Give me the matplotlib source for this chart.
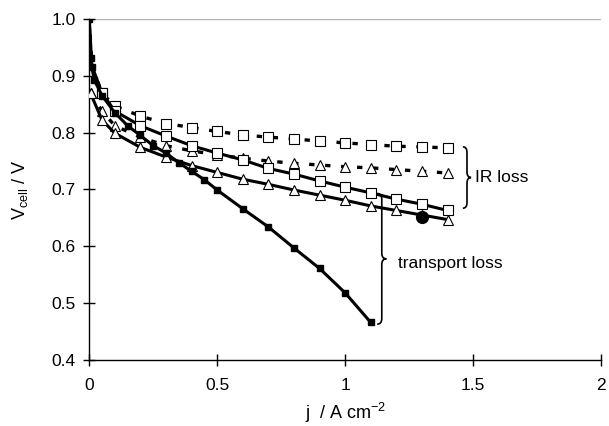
import matplotlib
matplotlib.use("Agg")
import matplotlib.pyplot as plt
from matplotlib.path import Path
from matplotlib.patches import PathPatch

plt.rcParams['font.family'] = ['Liberation Sans', 'DejaVu Sans']
plt.rcParams['mathtext.fontset'] = 'custom'
plt.rcParams['mathtext.rm'] = 'Liberation Sans'
plt.rcParams['mathtext.it'] = 'Liberation Sans:italic'

# open squares, dashed (top)
j_sq_dash = [0.0, 0.01, 0.05, 0.1, 0.2, 0.3, 0.4, 0.5, 0.6, 0.7, 0.8, 0.9, 1.0, 1.1, 1.2, 1.3, 1.4]
v_sq_dash = [1.0, 0.918, 0.869, 0.847, 0.829, 0.816, 0.809, 0.802, 0.796, 0.792, 0.789, 0.785,
             0.782, 0.779, 0.776, 0.775, 0.773]

# open squares, solid
j_sq_solid = [0.0, 0.01, 0.05, 0.1, 0.2, 0.3, 0.4, 0.5, 0.6, 0.7, 0.8, 0.9, 1.0, 1.1, 1.2, 1.3, 1.4]
v_sq_solid = [1.0, 0.918, 0.869, 0.838, 0.812, 0.794, 0.777, 0.764, 0.752, 0.737, 0.727, 0.715,
              0.704, 0.694, 0.683, 0.674, 0.663]

# open triangles, dashed
j_tr_dash = [0.005, 0.05, 0.1, 0.2, 0.3, 0.4, 0.5, 0.6, 0.7, 0.8, 0.9, 1.0, 1.1, 1.2, 1.3, 1.4]
v_tr_dash = [0.869, 0.838, 0.812, 0.792, 0.777, 0.768, 0.761, 0.755, 0.750, 0.746, 0.743, 0.740, 0.738, 0.735,
             0.732, 0.729]

# open triangles, solid
j_tr_solid = [0.005, 0.05, 0.1, 0.2, 0.3, 0.4, 0.5, 0.6, 0.7, 0.8, 0.9, 1.0, 1.1, 1.2, 1.3, 1.4]
v_tr_solid = [0.869, 0.822, 0.799, 0.774, 0.757, 0.742, 0.730, 0.718, 0.709, 0.699, 0.690, 0.681, 0.671, 0.663,
              0.655, 0.647]

# filled squares
j_fill = [0.0, 0.005, 0.01, 0.02, 0.05, 0.1, 0.15, 0.2, 0.25, 0.3, 0.35, 0.4, 0.45, 0.5, 0.6, 0.7, 0.8, 0.9,
          1.0, 1.1]
v_fill = [1.0, 0.932, 0.915, 0.892, 0.865, 0.835, 0.812, 0.795, 0.777, 0.764, 0.747, 0.732, 0.717, 0.699,
          0.666, 0.634, 0.597, 0.561, 0.518, 0.466]

# single filled circle
j_dot = [1.3]
v_dot = [0.651]

x_ticks = [0, 0.5, 1, 1.5, 2]
x_labels = ["0", "0.5", "1", "1.5", "2"]
y_ticks = [0.4, 0.5, 0.6, 0.7, 0.8, 0.9, 1.0]


def brace(ax, x0, top, bottom, w, h):
    mid = (top + bottom) / 2
    verts = [(x0 - w, top), (x0, top), (x0, top - h),
             (x0, mid + h),
             (x0, mid), (x0 + w, mid),
             (x0, mid), (x0, mid - h),
             (x0, bottom + h),
             (x0, bottom), (x0 - w, bottom)]
    codes = [Path.MOVETO, Path.CURVE3, Path.CURVE3,
             Path.LINETO,
             Path.CURVE3, Path.CURVE3,
             Path.CURVE3, Path.CURVE3,
             Path.LINETO,
             Path.CURVE3, Path.CURVE3]
    ax.add_patch(PathPatch(Path(verts, codes), fill=False, lw=1.2, color='black', zorder=4))


fig = plt.figure(figsize=(6.09, 4.26), dpi=100)
ax = fig.add_axes([0.1466, 0.155, 0.8404, 0.8005])

ax.axhline(1.0, color='#b4b4b4', lw=1.0, zorder=0)

dash = (0, (1.6, 3.2))
ax.plot(j_sq_dash, v_sq_dash, color='black', lw=2.4, linestyle=dash, marker='s', ms=6.5,
        mfc='white', mec='black', mew=0.8, markevery=slice(2, None), zorder=3)
ax.plot(j_tr_dash, v_tr_dash, color='black', lw=2.4, linestyle=dash, marker='^', ms=7.5,
        mfc='white', mec='black', mew=0.8, zorder=3)
ax.plot(j_sq_solid, v_sq_solid, color='black', lw=2.2, marker='s', ms=6.5,
        mfc='white', mec='black', mew=0.8, markevery=slice(2, None), zorder=3)
ax.plot(j_tr_solid, v_tr_solid, color='black', lw=2.2, marker='^', ms=7.5,
        mfc='white', mec='black', mew=0.8, zorder=3)
ax.plot(j_fill, v_fill, color='black', lw=2.2, marker='s', ms=5, mfc='black', mec='black', zorder=3.5)
ax.plot(j_dot, v_dot, linestyle='none', marker='o', ms=8.5, color='black', zorder=4)

brace(ax, 1.476, 0.775, 0.667, 0.016, 0.010)
ax.text(1.506, 0.721, "IR loss", fontsize=12.5, va='center', ha='left')
brace(ax, 1.143, 0.693, 0.463, 0.018, 0.010)
ax.text(1.208, 0.570, "transport loss", fontsize=12.5, va='center', ha='left')

ax.set_xlim(0, 2)
ax.set_ylim(0.4, 1.0)
ax.set_xticks(x_ticks)
ax.set_xticklabels(x_labels)
ax.set_yticks(y_ticks)
ax.set_yticklabels([f"{v:.1f}" for v in y_ticks])
ax.tick_params(direction='inout', length=8, width=1.0, labelsize=12.5)
ax.tick_params(axis='x', pad=9)
ax.tick_params(axis='y', pad=6)

for side in ['top', 'right']:
    ax.spines[side].set_visible(False)
for side in ['left', 'bottom']:
    ax.spines[side].set_linewidth(1.0)

ax.set_xlabel("j  / A cm$^{-2}$", fontsize=13)
ax.set_ylabel("V$_{\\mathregular{cell}}$ / V", fontsize=13)
ax.xaxis.set_label_coords(0.5, -0.12)
ax.yaxis.set_label_coords(-0.115, 0.5)

fig.savefig("out.png", dpi=100)
